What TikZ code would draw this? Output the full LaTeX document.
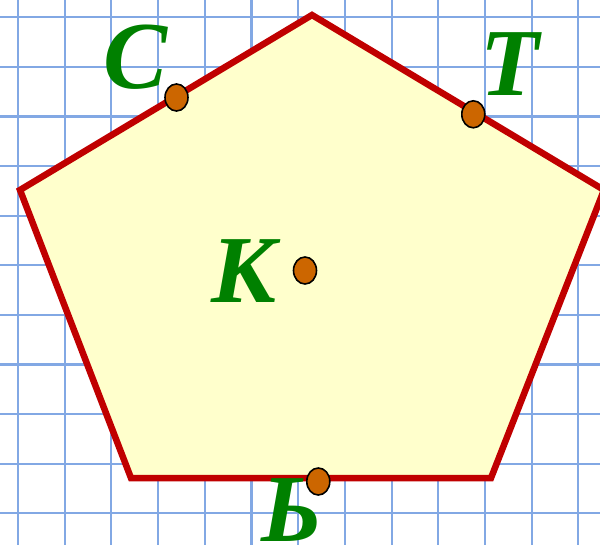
\documentclass[tikz,border=0pt]{standalone}
\usepackage{fontspec}
\setmainfont{Liberation Serif}
\usetikzlibrary{shapes.geometric}
\definecolor{gridblue}{RGB}{130,168,228}
\definecolor{polyred}{RGB}{192,0,0}
\definecolor{polyfill}{RGB}{255,255,204}
\definecolor{dotorange}{RGB}{204,102,0}
\definecolor{lettergreen}{RGB}{0,128,0}
\tikzset{
  gridline/.style={draw=gridblue, line width=2.1pt},
  poly/.style={draw=polyred, fill=polyfill, line width=6.5pt, line join=miter},
  dotpt/.style={ellipse, draw=black, fill=dotorange, line width=1.6pt, minimum width=23pt, minimum height=27pt, inner sep=0pt},
  letter/.style={text=lettergreen, inner sep=0pt, font=\fontsize{96}{96}\selectfont\bfseries\itshape}
}
\begin{document}
\begin{tikzpicture}[x=1pt,y=-1pt]
\useasboundingbox (0,0) rectangle (600,545);
\clip (0,0) rectangle (600,545);
\fill[white] (0,0) rectangle (600,545);
\foreach \i in {0,...,12} \draw[gridline] ({18+46.7*\i},0) -- ({18+46.7*\i},545);
\foreach \j in {0,...,10} \draw[gridline] (0,{17.3+49.6*\j}) -- (600,{17.3+49.6*\j});
\coordinate (vt) at (312,15);
\coordinate (vr) at (604,190);
\coordinate (vbr) at (491,478);
\coordinate (vbl) at (131,478);
\coordinate (vl) at (20,190);
\draw[poly] (vt) -- (vr) -- (vbr) -- (vbl) -- (vl) -- cycle;
\node[dotpt] (pc) at (176.5,97.5) {};
\node[dotpt] (pt) at (473.3,114.3) {};
\node[dotpt] (pk) at (305,270.5) {};
\node[dotpt] (pb) at (318.3,481.5) {};
\node[letter] (lc) at (136,57.5) {С};
\node[letter] (lt) at (510,64.5) {Т};
\node[letter] (lk) at (244.5,271) {К};
\node[letter] (lb) at (291.5,510) {Ь};
\end{tikzpicture}
\end{document}
